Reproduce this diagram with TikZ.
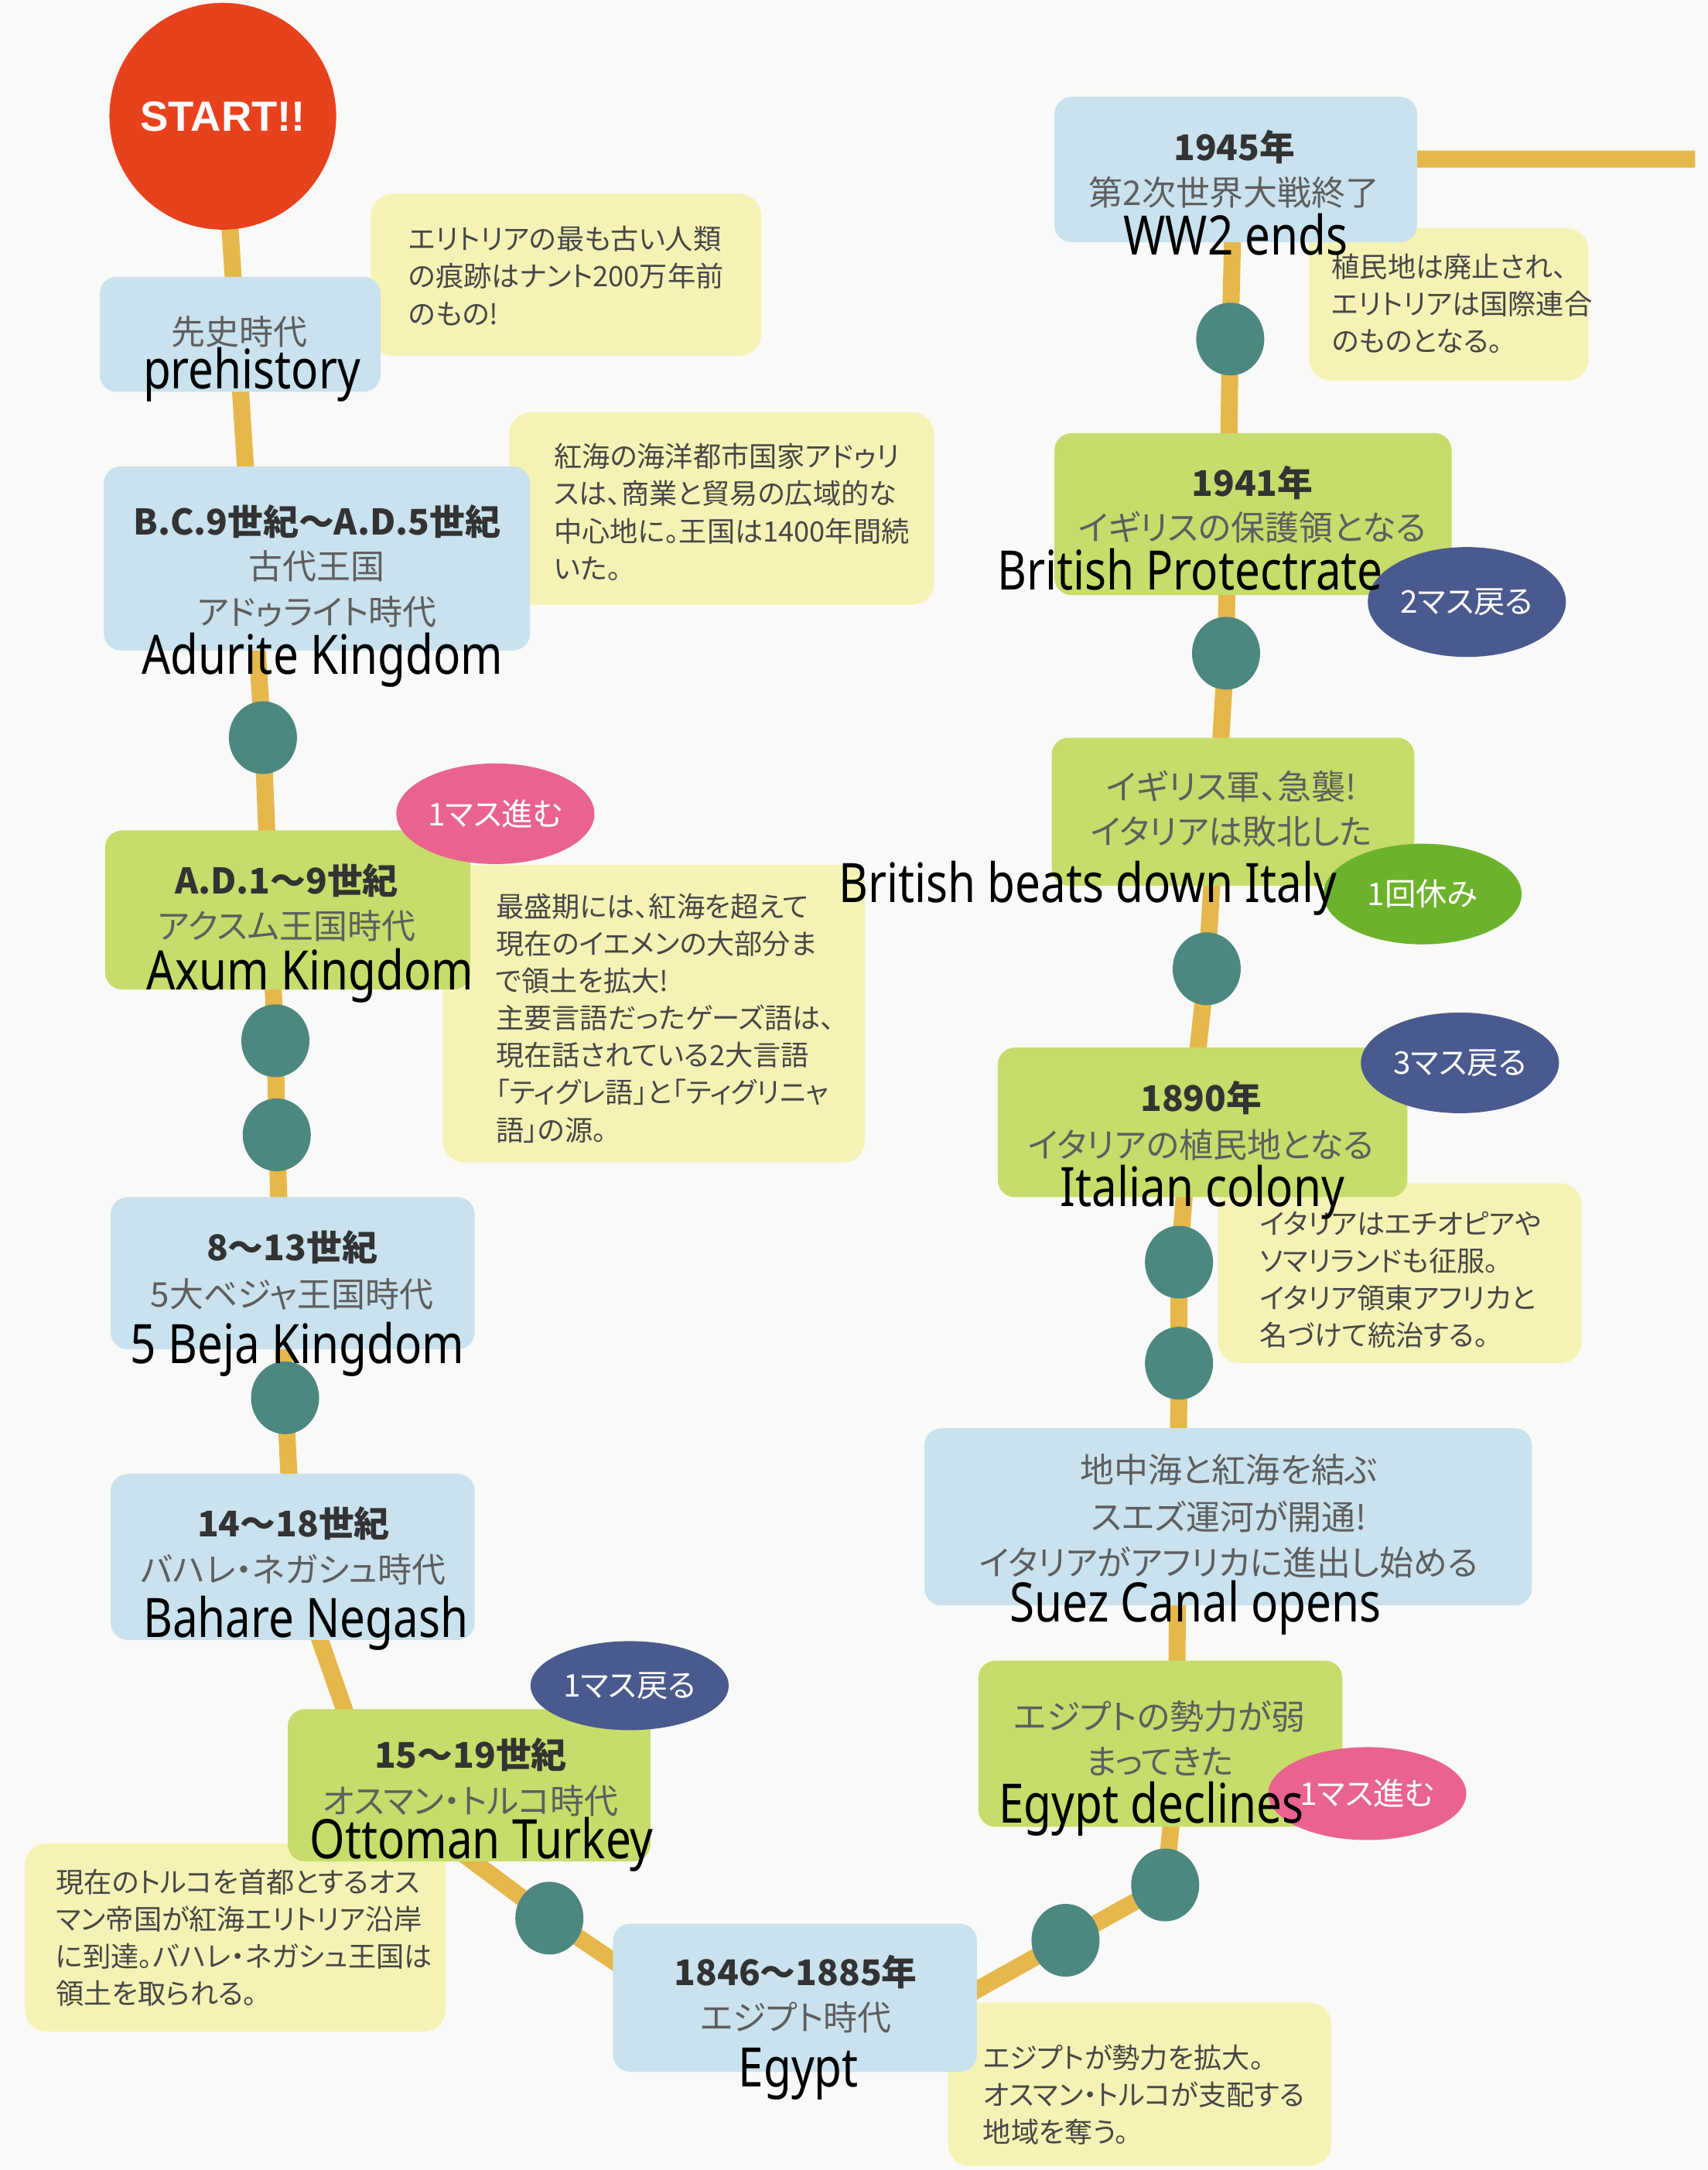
\documentclass[tikz,border=0pt]{standalone}
\usepackage{fontspec}
\setmainfont{Noto Sans}
\newfontfamily\jp[RawFeature=+palt]{Noto Sans CJK JP}
\newfontfamily\eng[FakeStretch=0.83]{Noto Sans}
\newfontfamily\startfont{Liberation Sans}
\usetikzlibrary{fit,shapes.geometric}
\definecolor{trunkc}{HTML}{E6B84B}
\definecolor{dotc}{HTML}{4D8880}
\definecolor{boxblue}{HTML}{C9E2ED}
\definecolor{boxgreen}{HTML}{C6DC6B}
\definecolor{notey}{HTML}{F4F3B5}
\definecolor{pinkc}{HTML}{E9638E}
\definecolor{navyc}{HTML}{4A5A8E}
\definecolor{greenc}{HTML}{6CB32B}
\definecolor{startc}{HTML}{E8411D}
\definecolor{datec}{HTML}{333333}
\definecolor{subc}{HTML}{5E5E5E}
\definecolor{notec}{HTML}{474747}
\definecolor{paper}{HTML}{F9F9F7}
\pgfdeclarelayer{paperlayer}
\pgfdeclarelayer{lines}
\pgfsetlayers{paperlayer,lines,main}
\tikzset{
 trunk/.style={line width=0.22cm, draw=trunkc, line join=round},
 bbox/.style={fill=boxblue, rounded corners=0.22cm, inner sep=0pt},
 gbox/.style={fill=boxgreen, rounded corners=0.22cm, inner sep=0pt},
 nbox/.style={fill=notey, rounded corners=0.28cm, inner sep=0pt},
 dot/.style={ellipse, fill=dotc, minimum width=0.88cm, minimum height=0.94cm, inner sep=0pt},
 badge/.style={ellipse, minimum width=2.56cm, minimum height=1.3cm, inner sep=0pt, text=white, font=\jp\fontsize{11.5}{13}\selectfont},
 datetxt/.style={font=\jp\bfseries\fontsize{13}{15}\selectfont, text=datec, inner sep=0pt},
 subtxt/.style={font=\jp\fontsize{12.5}{14}\selectfont, text=subc, inner sep=0pt},
 engtxt/.style={font=\eng\fontsize{20}{22}\selectfont, text=black, inner sep=0pt, anchor=base},
 notetxt/.style={font=\jp\fontsize{10.3}{13.7}\selectfont, text=notec, inner sep=0pt, align=left, anchor=north west},
}
\begin{document}
\begin{tikzpicture}[x=0.017885cm, y=-0.017885cm]
\useasboundingbox (0,0) rectangle (1234,1568);
\begin{pgfonlayer}{paperlayer}
\fill[paper] (0,0) rectangle (1234,1568);
\end{pgfonlayer}

% notes
\node[nbox, fit={(268,140)(550,257)}] (n1) {};
\node[notetxt] (n1t) at (295,163) {エリトリアの最も古い人類\\の痕跡はナント200万年前\\のもの!};
\node[nbox, fit={(368,298)(675,437)}] (n2) {};
\node[notetxt] (n2t) at (400,320) {紅海の海洋都市国家アドゥリ\\スは、商業と貿易の広域的な\\中心地に。王国は1400年間続\\いた。};
\node[nbox, fit={(320,625)(625,840)}] (n3) {};
\node[notetxt] (n3t) at (358,645) {最盛期には、紅海を超えて\\現在のイエメンの大部分ま\\で領土を拡大!\\主要言語だったゲーズ語は、\\現在話されている2大言語\\「ティグレ語」と「ティグリニャ\\語」の源。};
\node[nbox, fit={(18,1332)(322,1468)}] (n4) {};
\node[notetxt] (n4t) at (40,1350) {現在のトルコを首都とするオス\\マン帝国が紅海エリトリア沿岸\\に到達。バハレ・ネガシュ王国は\\領土を取られる。};
\node[nbox, fit={(685,1447)(962,1565)}] (n5) {};
\node[notetxt] (n5t) at (710,1477) {エジプトが勢力を拡大。\\オスマン・トルコが支配する\\地域を奪う。};
\node[nbox, fit={(880,855)(1143,985)}] (n6) {};
\node[notetxt] (n6t) at (910,875) {イタリアはエチオピアや\\ソマリランドも征服。\\イタリア領東アフリカと\\名づけて統治する。};
\node[nbox, fit={(946,165)(1148,275)}] (n7) {};
\node[notetxt] (n7t) at (962,183) {植民地は廃止され、\\エリトリアは国際連合\\のものとなる。};

% start
\node[circle, fill=startc, minimum size=2.93cm, inner sep=0pt, text=white, font=\startfont\bfseries\fontsize{15.5}{18}\selectfont] (start) at (161,84) {START!!};

% boxes
\node[bbox, fit={(72,200)(275,283)}] (b1) {};
\node[subtxt] (b1a) at (173,240) {先史時代};
\node[bbox, fit={(75,337)(383,470)}] (b2) {};
\node[datetxt] (b2a) at (229,377) {B.C.9世紀～A.D.5世紀};
\node[subtxt] (b2b) at (229,409) {古代王国};
\node[subtxt] (b2c) at (229,442) {アドゥライト時代};
\node[gbox, fit={(76,600)(340,715)}] (b3) {};
\node[datetxt] (b3a) at (207,636) {A.D.1～9世紀};
\node[subtxt] (b3b) at (207,669) {アクスム王国時代};
\node[bbox, fit={(80,865)(343,975)}] (b4) {};
\node[datetxt] (b4a) at (211,901) {8～13世紀};
\node[subtxt] (b4b) at (211,935) {5大ベジャ王国時代};
\node[bbox, fit={(80,1065)(343,1185)}] (b5) {};
\node[datetxt] (b5a) at (212,1101) {14～18世紀};
\node[subtxt] (b5b) at (212,1134) {バハレ・ネガシュ時代};
\node[gbox, fit={(208,1235)(470,1345)}] (b6) {};
\node[datetxt] (b6a) at (340,1268) {15～19世紀};
\node[subtxt] (b6b) at (340,1301) {オスマン・トルコ時代};
\node[bbox, fit={(443,1390)(706,1497)}] (b7) {};
\node[datetxt] (b7a) at (575,1425) {1846～1885年};
\node[subtxt] (b7b) at (575,1458) {エジプト時代};
\node[gbox, fit={(707,1200)(970,1320)}] (b8) {};
\node[subtxt] (b8a) at (838,1240) {エジプトの勢力が弱};
\node[subtxt] (b8b) at (838,1273) {まってきた};
\node[bbox, fit={(668,1032)(1107,1160)}] (b9) {};
\node[subtxt] (b9a) at (888,1062) {地中海と紅海を結ぶ};
\node[subtxt] (b9b) at (888,1096) {スエズ運河が開通!};
\node[subtxt] (b9c) at (888,1129) {イタリアがアフリカに進出し始める};
\node[gbox, fit={(721,757)(1017,865)}] (b10) {};
\node[datetxt] (b10a) at (868,793) {1890年};
\node[subtxt] (b10b) at (868,827) {イタリアの植民地となる};
\node[gbox, fit={(760,533)(1022,640)}] (b11) {};
\node[subtxt] (b11a) at (890,568) {イギリス軍、急襲!};
\node[subtxt] (b11b) at (890,601) {イタリアは敗北した};
\node[gbox, fit={(762,313)(1049,430)}] (b12) {};
\node[datetxt] (b12a) at (905,349) {1941年};
\node[subtxt] (b12b) at (905,381) {イギリスの保護領となる};
\node[bbox, fit={(762,70)(1024,175)}] (b13) {};
\node[datetxt] (b13a) at (892,106) {1945年};
\node[subtxt] (b13b) at (892,139) {第2次世界大戦終了};

% dots
\node[dot] (d1) at (190,533) {};
\node[dot] (d2) at (199,752) {};
\node[dot] (d3) at (200,820) {};
\node[dot] (d4) at (206,1010) {};
\node[dot] (d5) at (397,1386) {};
\node[dot] (d6) at (770,1402) {};
\node[dot] (d7) at (842,1362) {};
\node[dot] (d8) at (852,985) {};
\node[dot] (d9) at (852,912) {};
\node[dot] (d10) at (872,700) {};
\node[dot] (d11) at (886,472) {};
\node[dot] (d12) at (889,245) {};

% hidden bends
\coordinate (k1) at (212,1130);
\coordinate (k2) at (268,1290);
\coordinate (k3) at (500,1455);
\coordinate (k4) at (650,1469);
\coordinate (k5) at (850,1280);
\coordinate (k6) at (860,810);
\coordinate (k7) at (892,115);
\coordinate (tend) at (1225,115);

\begin{pgfonlayer}{lines}
\draw[trunk] (start.center) -- (d1.center) -- (d2.center) -- (d3.center) -- (d4.center) -- (k1) -- (k2) -- (d5.center) -- (k3) -- (k4) -- (d6.center) -- (d7.center) -- (k5) -- (d8.center) -- (d9.center) -- (k6) -- (d10.center) -- (d11.center) -- (d12.center) -- (k7) -- (tend);
\end{pgfonlayer}

% badges
\node[badge, fill=pinkc] (g1) at (358,588) {1マス進む};
\node[badge, fill=navyc, minimum height=1.15cm] (g2) at (455,1218) {1マス戻る};
\node[badge, fill=pinkc, minimum height=1.2cm] (g3) at (988,1296) {1マス進む};
\node[badge, fill=navyc] (g4) at (1055,768) {3マス戻る};
\node[badge, fill=greenc] (g5) at (1028,646) {1回休み};
\node[badge, fill=navyc, minimum height=1.42cm] (g6) at (1060,435) {2マス戻る};

% english labels
\node[engtxt] (b1e) at (182,281) {prehistory};
\node[engtxt] (b2e) at (233,487) {Adurite Kingdom};
\node[engtxt] (b3e) at (224,715) {Axum Kingdom};
\node[engtxt] (b4e) at (215,985) {5 Beja Kingdom};
\node[engtxt] (b5e) at (221,1183) {Bahare Negash};
\node[engtxt] (b6e) at (348,1343) {Ottoman Turkey};
\node[engtxt] (b7e) at (577,1508) {Egypt};
\node[engtxt] (b8e) at (832,1317) {Egypt declines};
\node[engtxt] (b9e) at (864,1172) {Suez Canal opens};
\node[engtxt] (b10e) at (869,872) {Italian colony};
\node[engtxt] (b11e) at (786,652) {British beats down Italy};
\node[engtxt] (b12e) at (860,426) {British Protectrate};
\node[engtxt] (b13e) at (893,184) {WW2 ends};
\end{tikzpicture}
\end{document}
